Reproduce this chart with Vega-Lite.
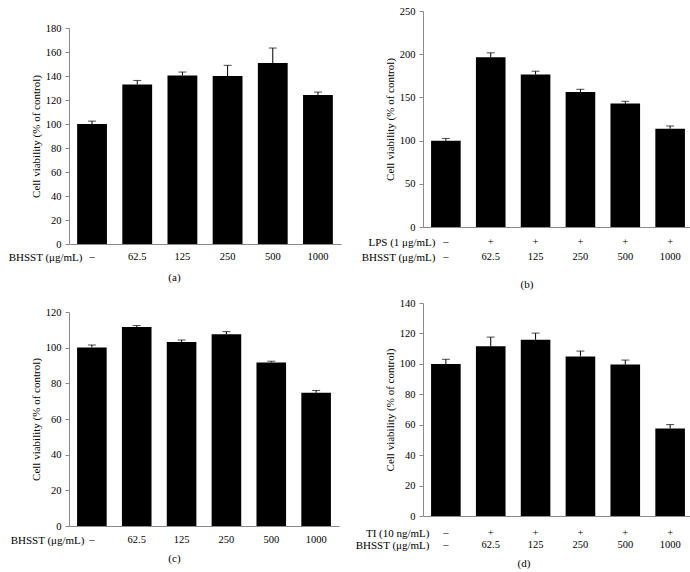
{
  "$schema": "https://vega.github.io/schema/vega-lite/v6.json",
  "padding": {"left": 7, "top": 6, "right": 5, "bottom": 5},
  "background": "white",
  "config": {
    "font": "Liberation Serif",
    "view": {"stroke": null},
    "axis": {
      "grid": false,
      "labelFont": "Liberation Serif",
      "titleFont": "Liberation Serif",
      "labelFontSize": 10.5,
      "titleFontSize": 11,
      "titleFontWeight": "normal",
      "labelColor": "#000000",
      "titleColor": "#000000",
      "domainColor": "#8a8a8a",
      "tickColor": "#8a8a8a",
      "labelOverlap": false
    },
    "axisY": {"tickSize": 4, "labelPadding": 4, "titlePadding": 4, "labelOverlap": false},
    "axisX": {"ticks": false, "labelAngle": 0, "titleAlign": "right", "titleBaseline": "top", "titleAngle": 0},
    "title": {"font": "Liberation Serif", "fontSize": 11, "fontWeight": "normal", "color": "#000000"}
  },
  "datasets": {
    "a": [
      {"c": "–", "v": 100, "u": 102.4},
      {"c": "62.5", "v": 133, "u": 136.3},
      {"c": "125", "v": 140.5, "u": 143.3},
      {"c": "250", "v": 140, "u": 148.9},
      {"c": "500", "v": 150.8, "u": 163.3},
      {"c": "1000", "v": 124.1, "u": 126.6}
    ],
    "b": [
      {"c": "–|–", "v": 99.8, "u": 102.5},
      {"c": "+|62.5", "v": 196.6, "u": 201.6},
      {"c": "+|125", "v": 176.5, "u": 180.3},
      {"c": "+|250", "v": 156.3, "u": 159.4},
      {"c": "+|500", "v": 142.8, "u": 145.5},
      {"c": "+|1000", "v": 113.8, "u": 116.9}
    ],
    "c": [
      {"c": "–", "v": 100.1, "u": 101.5},
      {"c": "62.5", "v": 111.6, "u": 112.4},
      {"c": "125", "v": 103.2, "u": 104.3},
      {"c": "250", "v": 107.5, "u": 109},
      {"c": "500", "v": 91.7, "u": 92.4},
      {"c": "1000", "v": 74.7, "u": 76}
    ],
    "d": [
      {"c": "–|–", "v": 99.9, "u": 103},
      {"c": "+|62.5", "v": 111.5, "u": 117.6},
      {"c": "+|125", "v": 115.8, "u": 120.2},
      {"c": "+|250", "v": 104.9, "u": 108.4},
      {"c": "+|500", "v": 99.5, "u": 102.5},
      {"c": "+|1000", "v": 57.5, "u": 60.1}
    ]
  },
  "spacing": 13,
  "hconcat": [
    {
      "spacing": 24,
      "vconcat": [
        {
          "width": 272, "height": 233,
          "title": {"text": "(a)", "orient": "bottom", "frame": "bounds", "anchor": "middle", "offset": 10},
          "data": {"name": "a"},
          "encoding": {
            "x": {"field": "c", "type": "nominal", "sort": null,
                  "scale": {"paddingInner": 0.34, "paddingOuter": 0.18},
                  "axis": {"title": "BHSST (μg/mL)", "labelPadding": 7, "titleX": 13, "titleY": 7}}
          },
          "layer": [
            {"mark": {"type": "bar", "color": "#000000"},
             "encoding": {"y": {"field": "v", "type": "quantitative", "scale": {"domain": [0, 180], "nice": false, "range": [233, 17]},
                                "axis": {"values": [0,20,40,60,80,100,120,140,160,180], "tickCount": 20, "title": "Cell viability (% of control)"}}}},
            {"mark": {"type": "rule", "color": "#000000", "strokeWidth": 1},
             "encoding": {"y": {"field": "v", "type": "quantitative"}, "y2": {"field": "u"}}},
            {"mark": {"type": "tick", "color": "#000000", "thickness": 1, "size": 8},
             "encoding": {"y": {"field": "u", "type": "quantitative"}}}
          ]
        },
        {
          "width": 270, "height": 214,
          "title": {"text": "(c)", "orient": "bottom", "frame": "bounds", "anchor": "middle", "offset": 8},
          "data": {"name": "c"},
          "encoding": {
            "x": {"field": "c", "type": "nominal", "sort": null,
                  "scale": {"paddingInner": 0.34, "paddingOuter": 0.18},
                  "axis": {"title": "BHSST (μg/mL)", "labelPadding": 8, "titleX": 15, "titleY": 8}}
          },
          "layer": [
            {"mark": {"type": "bar", "color": "#000000"},
             "encoding": {"y": {"field": "v", "type": "quantitative", "scale": {"domain": [0, 120], "nice": false},
                                "axis": {"values": [0,20,40,60,80,100,120], "tickCount": 20, "title": "Cell viability (% of control)"}}}},
            {"mark": {"type": "rule", "color": "#000000", "strokeWidth": 1},
             "encoding": {"y": {"field": "v", "type": "quantitative"}, "y2": {"field": "u"}}},
            {"mark": {"type": "tick", "color": "#000000", "thickness": 1, "size": 8},
             "encoding": {"y": {"field": "u", "type": "quantitative"}}}
          ]
        }
      ]
    },
    {
      "spacing": 8,
      "vconcat": [
        {
          "width": 270, "height": 216,
          "title": {"text": "(b)", "orient": "bottom", "frame": "bounds", "anchor": "middle", "offset": 16},
          "data": {"name": "b"},
          "encoding": {
            "x": {"field": "c", "type": "nominal", "sort": null,
                  "scale": {"paddingInner": 0.34, "paddingOuter": 0.18},
                  "axis": {"title": ["LPS (1 μg/mL)", "BHSST (μg/mL)"], "labelExpr": "split(datum.label, '|')",
                           "labelLineHeight": 15, "titleLineHeight": 15, "labelPadding": 9.5, "titleX": 12, "titleY": 9.5}}
          },
          "layer": [
            {"mark": {"type": "bar", "color": "#000000"},
             "encoding": {"y": {"field": "v", "type": "quantitative", "scale": {"domain": [0, 250], "nice": false},
                                "axis": {"values": [0,50,100,150,200,250], "tickCount": 20, "title": "Cell viability (% of control)"}}}},
            {"mark": {"type": "rule", "color": "#000000", "strokeWidth": 1},
             "encoding": {"y": {"field": "v", "type": "quantitative"}, "y2": {"field": "u"}}},
            {"mark": {"type": "tick", "color": "#000000", "thickness": 1, "size": 8},
             "encoding": {"y": {"field": "u", "type": "quantitative"}}}
          ]
        },
        {
          "width": 270, "height": 213,
          "title": {"text": "(d)", "orient": "bottom", "frame": "bounds", "anchor": "middle", "offset": 8},
          "data": {"name": "d"},
          "encoding": {
            "x": {"field": "c", "type": "nominal", "sort": null,
                  "scale": {"paddingInner": 0.34, "paddingOuter": 0.18},
                  "axis": {"title": ["TI (10 ng/mL)", "BHSST (μg/mL)"], "labelExpr": "split(datum.label, '|')",
                           "labelLineHeight": 12, "titleLineHeight": 12, "labelPadding": 11, "titleX": 6, "titleY": 11}}
          },
          "layer": [
            {"mark": {"type": "bar", "color": "#000000"},
             "encoding": {"y": {"field": "v", "type": "quantitative", "scale": {"domain": [0, 140], "nice": false},
                                "axis": {"values": [0,20,40,60,80,100,120,140], "tickCount": 20, "title": "Cell viability (% of control)"}}}},
            {"mark": {"type": "rule", "color": "#000000", "strokeWidth": 1},
             "encoding": {"y": {"field": "v", "type": "quantitative"}, "y2": {"field": "u"}}},
            {"mark": {"type": "tick", "color": "#000000", "thickness": 1, "size": 8},
             "encoding": {"y": {"field": "u", "type": "quantitative"}}}
          ]
        }
      ]
    }
  ]
}
